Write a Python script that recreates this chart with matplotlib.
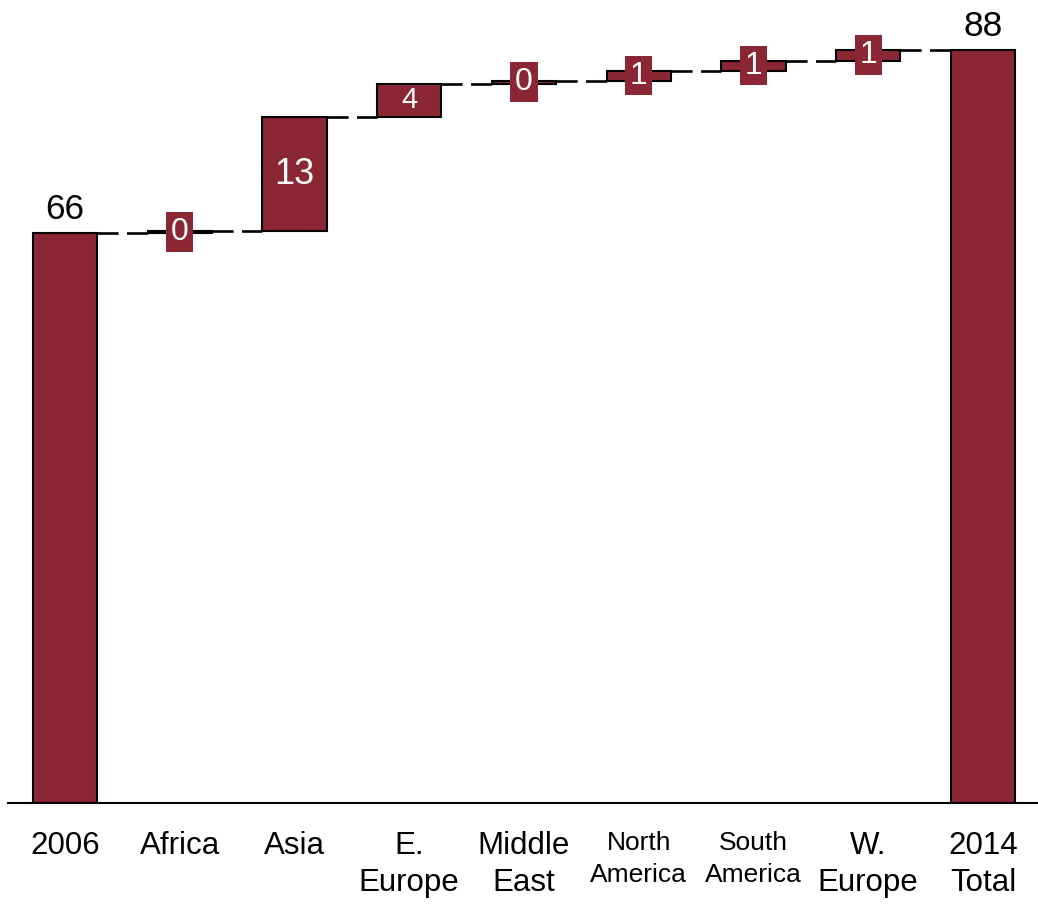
import numpy as np
import matplotlib.pyplot as plt

plt.rcParams['font.family'] = ['Liberation Sans', 'DejaVu Sans']

# Regional contributions, 2006 -> 2014
categories = ['2006', 'Africa', 'Asia', 'E.\nEurope', 'Middle\nEast',
              'North\nAmerica', 'South\nAmerica', 'W.\nEurope', '2014\nTotal']
start_value = 66.4
changes = [0.23, 13.25, 3.93, 0.35, 1.16, 1.16, 1.25]

barColor = '#8b2635'
barWidth = 0.56

total = start_value + sum(changes)
ends = start_value + np.cumsum(changes)
starts = ends - np.array(changes)

fig = plt.figure(figsize=(10.38, 9.07), dpi=100)
ax = fig.add_axes([8/1038, 104/907, 1030/1038, 803/907])

x = np.arange(len(categories))

# first and last bars from zero
for xi, v in [(x[0], start_value), (x[-1], total)]:
    ax.bar(xi, v, width=barWidth, color=barColor, edgecolor='black',
           linewidth=1.5, zorder=3)
    ax.annotate('%.0f' % v, (xi, v), xytext=(0, 5), textcoords='offset points',
                ha='center', va='bottom', fontsize=25.5, color='black')

# floating bars for each region
for i, d in enumerate(changes):
    xi = x[i + 1]
    ax.bar(xi, d, bottom=starts[i], width=barWidth, color=barColor,
           edgecolor='black', linewidth=1.5, zorder=3)
    if d > 2:
        fs = 26 if d > 10 else 21
        box = None
    else:
        # thin bars get a filled patch behind the label
        fs = 23
        box = dict(boxstyle='square,pad=0.15', fc=barColor, ec='none')
    ax.text(xi, starts[i] + d / 2, '%.0f' % d, ha='center', va='center',
            fontsize=fs, color='white', zorder=5, bbox=box)

# dashed connectors between bars
levels = np.concatenate([[start_value], ends])
for i, lv in enumerate(levels):
    ax.plot([x[i] + barWidth / 2, x[i + 1] - barWidth / 2], [lv, lv],
            color='black', linewidth=1.9, linestyle=(0, (8, 3.2)), zorder=2)

ax.set_xlim(-0.497, 8.48)
ax.set_ylim(0, 803 / 8.584)

for s in ['top', 'right', 'left']:
    ax.spines[s].set_visible(False)
ax.spines['bottom'].set_linewidth(1.5)
ax.set_yticks([])
ax.set_xticks(x)
ax.set_xticklabels(categories, fontsize=22.5, linespacing=1.32)
ax.tick_params(axis='x', length=0, pad=20)
for lbl in ax.get_xticklabels():
    if 'America' in lbl.get_text():
        lbl.set_fontsize(19)
        lbl.set_linespacing(1.45)

fig.savefig('out.png', dpi=100)
